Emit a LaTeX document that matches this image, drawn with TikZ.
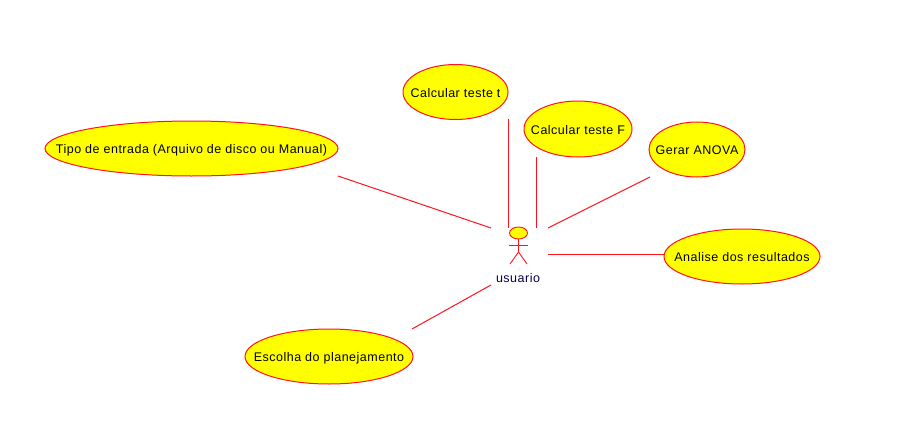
\documentclass[tikz,border=0pt]{standalone}
\usepackage{fontspec}
\setmainfont[LetterSpace=4]{Liberation Sans}
\usetikzlibrary{shapes.geometric}
\definecolor{ucred}{RGB}{255,20,30}
\definecolor{ucyellow}{RGB}{255,255,0}
\definecolor{actortext}{RGB}{10,0,70}
\newcommand{\uclabel}[1]{\makebox[0pt][c]{\raisebox{-5pt}[0pt][0pt]{#1}}}
\tikzset{
  usecase/.style={ellipse,draw=ucred,fill=ucyellow,line width=1pt,inner sep=0pt,font=\fontsize{12.5}{14}\selectfont,text=black},
  assoc/.style={draw=ucred,line width=1pt},
  actorline/.style={draw=ucred,line width=0.9pt}
}
\begin{document}
\begin{tikzpicture}[x=1pt,y=-1pt]
\useasboundingbox (0,0) rectangle (903,447);
\fill[white] (0,0) rectangle (903,447);
\node[usecase,minimum width=105pt,minimum height=55pt] (t) at (455.5,92) {\uclabel{Calcular teste t}};
\node[usecase,minimum width=108pt,minimum height=56pt] (f) at (578,129) {\uclabel{Calcular teste F}};
\node[usecase,minimum width=96pt,minimum height=55pt] (anova) at (697,149.5) {\uclabel{Gerar ANOVA}};
\node[usecase,minimum width=156pt,minimum height=55pt] (analise) at (742,256.5) {\uclabel{Analise dos resultados}};
\node[usecase,minimum width=293pt,minimum height=55pt] (tipo) at (191.5,148.5) {\uclabel{Tipo de entrada (Arquivo de disco ou Manual)}};
\node[usecase,minimum width=168pt,minimum height=55pt] (escolha) at (329,356.5) {\uclabel{Escolha do planejamento}};
% actor
\node[ellipse,draw=ucred,fill=ucyellow,line width=0.9pt,minimum width=18pt,minimum height=12pt,inner sep=0pt] (head) at (518.5,233) {};
\coordinate (hip) at (518.5,252);
\coordinate (armL) at (509,245);
\coordinate (armR) at (528,245);
\coordinate (legL) at (510,264);
\coordinate (legR) at (527,264);
\draw[actorline] (head.south) -- (hip);
\draw[actorline] (armL) -- (armR);
\draw[actorline] (legL) -- (hip) -- (legR);
\node[text=actortext,font=\fontsize{12.5}{14}\selectfont,inner sep=0pt] (usuario) at (518,278) {usuario};
% connector ends
\coordinate (tA) at (508.5,119); \coordinate (tB) at (508.5,228);
\coordinate (fA) at (536.5,157); \coordinate (fB) at (536.5,228);
\coordinate (gA) at (650,177); \coordinate (gB) at (548,228);
\coordinate (rA) at (664,254.5); \coordinate (rB) at (548,254.5);
\coordinate (eA) at (338,176); \coordinate (eB) at (491,228);
\coordinate (pA) at (412,329); \coordinate (pB) at (491,285);
\draw[assoc] (tA) -- (tB);
\draw[assoc] (fA) -- (fB);
\draw[assoc] (gA) -- (gB);
\draw[assoc] (rA) -- (rB);
\draw[assoc] (eA) -- (eB);
\draw[assoc] (pA) -- (pB);
\end{tikzpicture}
\end{document}
